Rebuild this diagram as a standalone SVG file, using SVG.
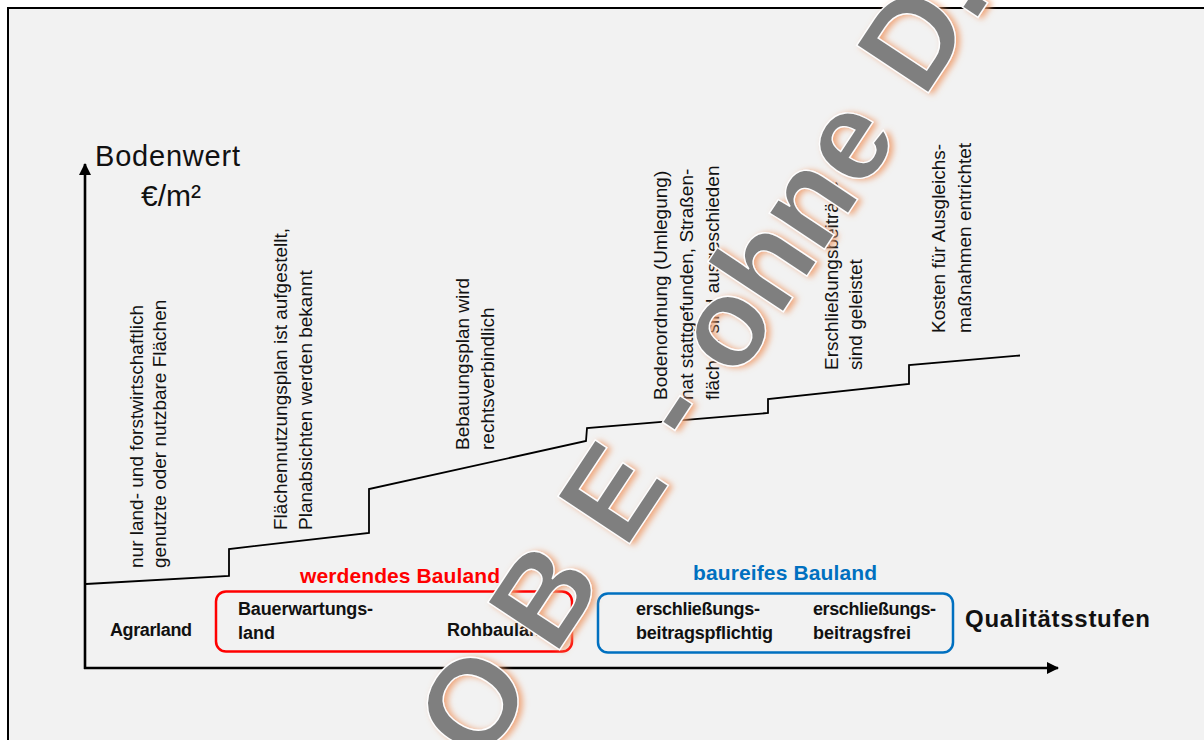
<svg xmlns="http://www.w3.org/2000/svg" width="1204" height="740" viewBox="0 0 1204 740">
<defs>
<style>
.v{font-family:"Liberation Sans",Arial,sans-serif;font-size:19px;fill:#111}
.b{font-family:"Liberation Sans",Arial,sans-serif;font-size:18px;font-weight:bold;fill:#111}
.ax{stroke:#000;stroke-width:2.6;fill:none}
.wm{font-family:"Liberation Sans",Arial,sans-serif;font-size:125px;font-weight:bold;fill:#7f7f7f;stroke:#fff;stroke-width:1.4}
</style>
<marker id="arr" viewBox="0 0 12 12" refX="11" refY="6" markerWidth="12" markerHeight="12" markerUnits="userSpaceOnUse" orient="auto">
<path d="M0,0 L12,6 L0,12 Z" fill="#000"/>
</marker>
<filter id="glow" x="-10%" y="-10%" width="120%" height="120%">
<feGaussianBlur in="SourceAlpha" stdDeviation="3" result="bl"/>
<feOffset in="bl" dx="4" dy="1" result="of"/>
<feFlood flood-color="#EE9A68" flood-opacity="0.85"/>
<feComposite in2="of" operator="in" result="sh"/>
<feMerge><feMergeNode in="sh"/><feMergeNode in="SourceGraphic"/></feMerge>
</filter>
</defs>
<rect x="0" y="0" width="1204" height="740" fill="#fff"/>
<rect x="8" y="8" width="1210" height="760" fill="#F2F2F2" stroke="#000" stroke-width="2"/>

<g id="connectors">
<line class="ax" x1="85" y1="669" x2="85" y2="164" marker-end="url(#arr)"/>
<line class="ax" x1="84" y1="668" x2="1058" y2="668" marker-end="url(#arr)"/>
<polyline fill="none" stroke="#000" stroke-width="1.8" points="86,584 229,576 229,549 369,533 369,489 586,441 587,428 768,413 768,399 909,384 909,365 1020,355.5"/>
</g>

<g id="axis-y-label">
<text x="95" y="166" font-family="Liberation Sans,Arial,sans-serif" font-size="29" fill="#111" textLength="145">Bodenwert</text>
<text x="171" y="206" font-family="Liberation Sans,Arial,sans-serif" font-size="30" fill="#111" text-anchor="middle">€/m²</text>
</g>
<g id="axis-x-label">
<text x="965" y="627" font-family="Liberation Sans,Arial,sans-serif" font-size="24" font-weight="bold" fill="#111" textLength="185">Qualitätsstufen</text>
</g>

<g id="note-agrar">
<text class="v" transform="translate(143,568) rotate(-90)">nur land- und forstwirtschaftlich</text>
<text class="v" transform="translate(166,568) rotate(-90)">genutzte oder nutzbare Flächen</text>
</g>
<g id="note-fnp">
<text class="v" transform="translate(287,530) rotate(-90)">Flächennutzungsplan ist aufgestellt,</text>
<text class="v" transform="translate(312,530) rotate(-90)">Planabsichten werden bekannt</text>
</g>
<g id="note-bplan">
<text class="v" transform="translate(469,450) rotate(-90)">Bebauungsplan wird</text>
<text class="v" transform="translate(494,450) rotate(-90)">rechtsverbindlich</text>
</g>
<g id="note-boden">
<text class="v" transform="translate(667,400) rotate(-90)">Bodenordnung (Umlegung)</text>
<text class="v" transform="translate(693,400) rotate(-90)">hat stattgefunden, Straßen-</text>
<text class="v" transform="translate(719,400) rotate(-90)">flächen sind ausgeschieden</text>
</g>
<g id="note-erschl">
<text class="v" transform="translate(838,370) rotate(-90)">Erschließungsbeiträge</text>
<text class="v" transform="translate(862,370) rotate(-90)">sind geleistet</text>
</g>
<g id="note-kosten">
<text class="v" transform="translate(945,333) rotate(-90)">Kosten für Ausgleichs-</text>
<text class="v" transform="translate(971,333) rotate(-90)">maßnahmen entrichtet</text>
</g>

<g id="agrarland">
<text class="b" x="110" y="636" textLength="82">Agrarland</text>
</g>
<g id="werdendes-bauland">
<text x="300" y="583" font-family="Liberation Sans,Arial,sans-serif" font-size="21" font-weight="bold" fill="#FF0000" textLength="200">werdendes Bauland</text>
<rect x="216" y="591.5" width="356" height="60" rx="10" fill="none" stroke="#FF0000" stroke-width="2.5"/>
<text class="b" x="238" y="615" textLength="135">Bauerwartungs-</text>
<text class="b" x="238" y="639">land</text>
<text class="b" x="447" y="636">Rohbauland</text>
</g>
<g id="baureifes-bauland">
<text x="693" y="580" font-family="Liberation Sans,Arial,sans-serif" font-size="21" font-weight="bold" fill="#0070C0" textLength="184">baureifes Bauland</text>
<rect x="598" y="593.5" width="355" height="59" rx="10" fill="none" stroke="#0070C0" stroke-width="2.5"/>
<text class="b" x="636" y="615" textLength="124">erschließungs-</text>
<text class="b" x="636" y="639" textLength="137">beitragspflichtig</text>
<text class="b" x="813" y="615" textLength="123">erschließungs-</text>
<text class="b" x="813" y="639" textLength="98">beitragsfrei</text>
</g>

<g id="watermark" filter="url(#glow)">
<g transform="translate(630,543.3) rotate(-56.5)">
<text class="wm" x="-268 -170 -136 -46 -9 74 114 156 194 269 344 420 489 532 622" y="0">O B E - ohne D.</text>
</g>
</g>
</svg>
